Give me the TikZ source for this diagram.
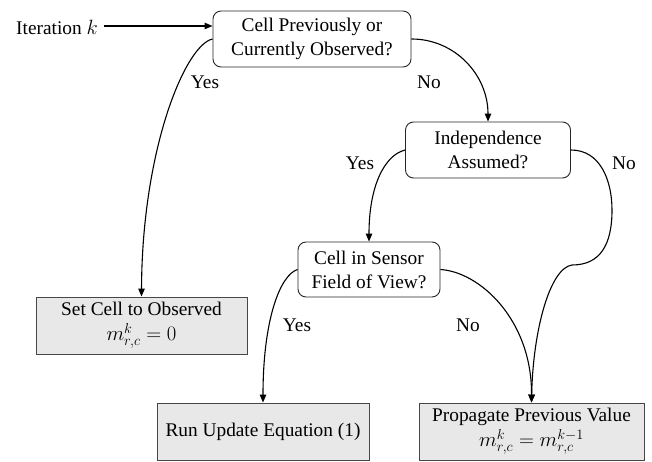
\documentclass[tikz,border=0pt]{standalone}
\usepackage{fontspec}
\setmainfont{Liberation Serif}
\usetikzlibrary{arrows.meta}
\begin{document}
\begin{tikzpicture}[x=1bp,y=-1bp,
  font=\fontsize{19.4}{24}\selectfont,
  dec/.style={draw=black!85, rounded corners=8bp, line width=0.9bp, align=center, inner sep=0pt, minimum height=56bp},
  act/.style={draw=black!72, fill=black!9, line width=0.9bp, align=center, inner sep=0pt, minimum height=57bp},
  flow/.style={line width=1.1bp, -{Triangle[length=8bp,width=6.5bp]}},
  lbl/.style={inner sep=0pt}]
\useasboundingbox (0,0) rectangle (652,462);

\node[inner sep=0pt] (iter) at (57,27) {Iteration $k$};
\node[dec, minimum width=198bp] (n1) at (312,39) {Cell Previously or\\Currently Observed?};
\node[dec, minimum width=165bp] (n2) at (488,150) {Independence\\Assumed?};
\node[dec, minimum width=142bp, minimum height=55bp] (n3) at (369,269.5) {Cell in Sensor\\Field of View?};
\node[act, minimum width=211bp] (n4) at (141.5,325.5) {Set Cell to Observed\\[1bp]$m_{r,c}^{k}=0$};
\node[act, minimum width=212bp] (n5) at (263,431.5) {Run Update Equation (1)};
\node[act, minimum width=225bp] (n6) at (531.5,431.5) {Propagate Previous Value\\[1bp]$m_{r,c}^{k}=m_{r,c}^{k-1}$};

\node[lbl] (l1) at (205,82) {Yes};
\node[lbl] (l2) at (429,82) {No};
\node[lbl] (l3) at (360,163) {Yes};
\node[lbl] (l4) at (624,163) {No};
\node[lbl] (l5) at (297,325) {Yes};
\node[lbl] (l6) at (468,325) {No};

\coordinate (s0) at ([xshift=6bp,yshift=1bp]iter.east);
\draw[flow] (s0) -- (s0 -| n1.west);
\draw[flow] (n1.west) .. controls (185,45) and (142,150) .. (n4.north);
\draw[flow] (n1.east) .. controls (455,39) and (488,75) .. (n2.north);
\draw[flow] (n2.west) .. controls (385,155) and (369,185) .. (n3.north);
\draw[flow] (n2.east) .. controls (600,150) and (612,180) .. (612,210)
  .. controls (612,245) and (600,265) .. (572,265)
  .. controls (550,268) and (533,330) .. (n6.north);
\draw[flow] (n3.west) .. controls (280,275) and (263,320) .. (n5.north);
\draw[flow] (n3.east) .. controls (480,272) and (532,320) .. (n6.north);
\end{tikzpicture}
\end{document}
